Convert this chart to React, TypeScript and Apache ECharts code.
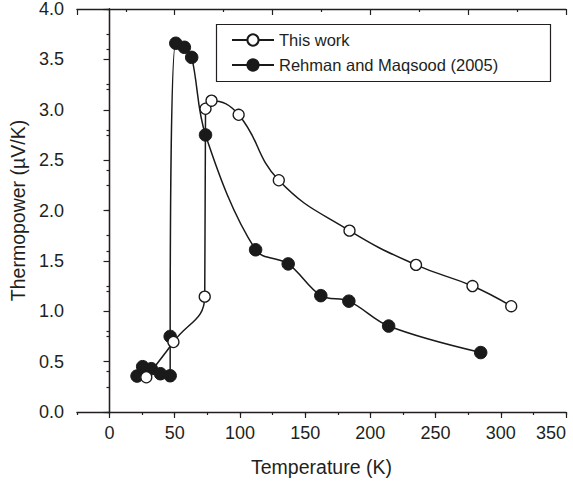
import React, { useEffect, useRef } from 'react';
import * as echarts from 'echarts';

// This work (open circles)
const tempThisWork = [28.2, 49, 73, 73.6, 78.2, 99, 129.8, 184, 235, 278.3, 308];
const thermoThisWork = [0.345, 0.695, 1.145, 3.01, 3.09, 2.95, 2.3, 1.8, 1.46, 1.25, 1.05];

// Rehman and Maqsood (2005) (filled circles)
const tempRehman = [21.1, 25.4, 32, 39, 46.5, 46.5, 50.8, 57.4, 63, 73.6, 112, 137, 162, 183.5, 214, 284.6];
const thermoRehman = [0.357, 0.45, 0.43, 0.38, 0.36, 0.75, 3.66, 3.62, 3.52, 2.75, 1.61, 1.47, 1.155, 1.1, 0.853, 0.59];

const seriesNames = ['This work', 'Rehman and Maqsood (2005)'];
const xMajorTicks = [0, 50, 100, 150, 200, 250, 300, 350];

const FONT = 'Arial, "Liberation Sans", Helvetica, sans-serif';
const INK = '#231f20';

export default function App() {
  const ref = useRef<HTMLDivElement>(null);
  useEffect(() => {
    const chart = echarts.init(ref.current!, null, { renderer: 'svg' });
    const axisLine = { show: true, lineStyle: { color: INK, width: 1.3 } };
    const option: any = {
      animation: false,
      backgroundColor: '#fff',
      textStyle: { fontFamily: FONT, color: INK },
      grid: { left: 76, right: 7, top: 9, bottom: 71, containLabel: false },
      graphic: [
        {
          type: 'rect',
          shape: { x: 216.5, y: 24.5, width: 334, height: 57 },
          style: { fill: 'transparent', stroke: INK, lineWidth: 1.2 },
          silent: true,
          z: 1,
        },
      ],
      legend: {
        left: 231,
        top: 30,
        orient: 'vertical',
        padding: 0,
        itemWidth: 42,
        itemHeight: 14,
        itemGap: 5,
        textStyle: { fontSize: 16.5, color: INK, fontFamily: FONT, lineHeight: 20 },
        data: seriesNames,
      },
      xAxis: [
        {
          type: 'value',
          position: 'bottom',
          min: -25,
          max: 350,
          interval: 25,
          axisLine,
          splitLine: { show: false },
          axisTick: { show: true, inside: false, length: 3, lineStyle: { color: INK, width: 1.2 } },
          axisLabel: {
            fontSize: 18,
            color: INK,
            fontFamily: FONT,
            margin: 12,
            alignMaxLabel: 'right',
            formatter: (v: number) => (v % 50 === 0 ? String(v) : ''),
          },
          name: 'Temperature (K)',
          nameLocation: 'middle',
          nameGap: 45,
          nameTextStyle: { fontSize: 19.5, color: INK, fontFamily: FONT },
        },
        {
          type: 'value',
          position: 'bottom',
          min: -25,
          max: 350,
          axisLine: { show: false },
          splitLine: { show: false },
          axisTick: { show: true, inside: false, length: 6, customValues: xMajorTicks, lineStyle: { color: INK, width: 1.2 } },
          axisLabel: { show: false, customValues: xMajorTicks },
        },
        {
          type: 'value',
          position: 'top',
          min: -25,
          max: 350,
          interval: 75,
          axisLine,
          splitLine: { show: false },
          axisTick: { show: true, inside: true, length: 6, lineStyle: { color: INK, width: 1.2 } },
          minorTick: { show: true, splitNumber: 2, length: 3, lineStyle: { color: INK, width: 1.2 } },
          axisLabel: { show: false },
        },
      ],
      yAxis: [
        {
          type: 'value',
          position: 'left',
          min: 0,
          max: 4,
          interval: 0.5,
          axisLine,
          splitLine: { show: false },
          axisTick: { show: true, inside: false, length: 6, lineStyle: { color: INK, width: 1.2 } },
          minorTick: { show: true, splitNumber: 2, length: 3, lineStyle: { color: INK, width: 1.2 } },
          axisLabel: {
            fontSize: 18,
            color: INK,
            fontFamily: FONT,
            margin: 13,
            formatter: (v: number) => v.toFixed(1),
          },
          name: 'Thermopower (µV/K)',
          nameLocation: 'middle',
          nameRotate: 90,
          nameGap: 38,
          nameTextStyle: { fontSize: 19.5, color: INK, fontFamily: FONT },
        },
        {
          type: 'value',
          position: 'right',
          min: 0,
          max: 4,
          interval: 0.4,
          axisLine,
          splitLine: { show: false },
          axisTick: { show: true, inside: true, length: 3, lineStyle: { color: INK, width: 1.2 } },
          axisLabel: { show: false },
        },
      ],
      series: [
        {
          name: seriesNames[1],
          type: 'line',
          xAxisIndex: 0,
          yAxisIndex: 0,
          data: tempRehman.map((t, i) => [t, thermoRehman[i]]),
          smooth: 0.35,
          symbol: 'circle',
          symbolSize: 12.5,
          lineStyle: { color: '#1a1a1a', width: 1.5 },
          itemStyle: { color: '#1a1a1a', borderColor: '#1a1a1a', borderWidth: 1 },
          z: 2,
        },
        {
          name: seriesNames[0],
          type: 'line',
          xAxisIndex: 0,
          yAxisIndex: 0,
          data: tempThisWork.map((t, i) => [t, thermoThisWork[i]]),
          smooth: 0.45,
          symbol: 'circle',
          symbolSize: 11,
          showAllSymbol: true,
          lineStyle: { color: '#1a1a1a', width: 1.5 },
          itemStyle: { color: '#ffffff', borderColor: '#1a1a1a', borderWidth: 1.3 },
          z: 3,
        },
      ],
    };
    chart.setOption(option);
    return () => chart.dispose();
  }, []);
  return (
    <div
      ref={ref}
      style={{ position: 'fixed', left: 0, top: 0, width: 573, height: 483, background: '#fff' }}
    />
  );
}
